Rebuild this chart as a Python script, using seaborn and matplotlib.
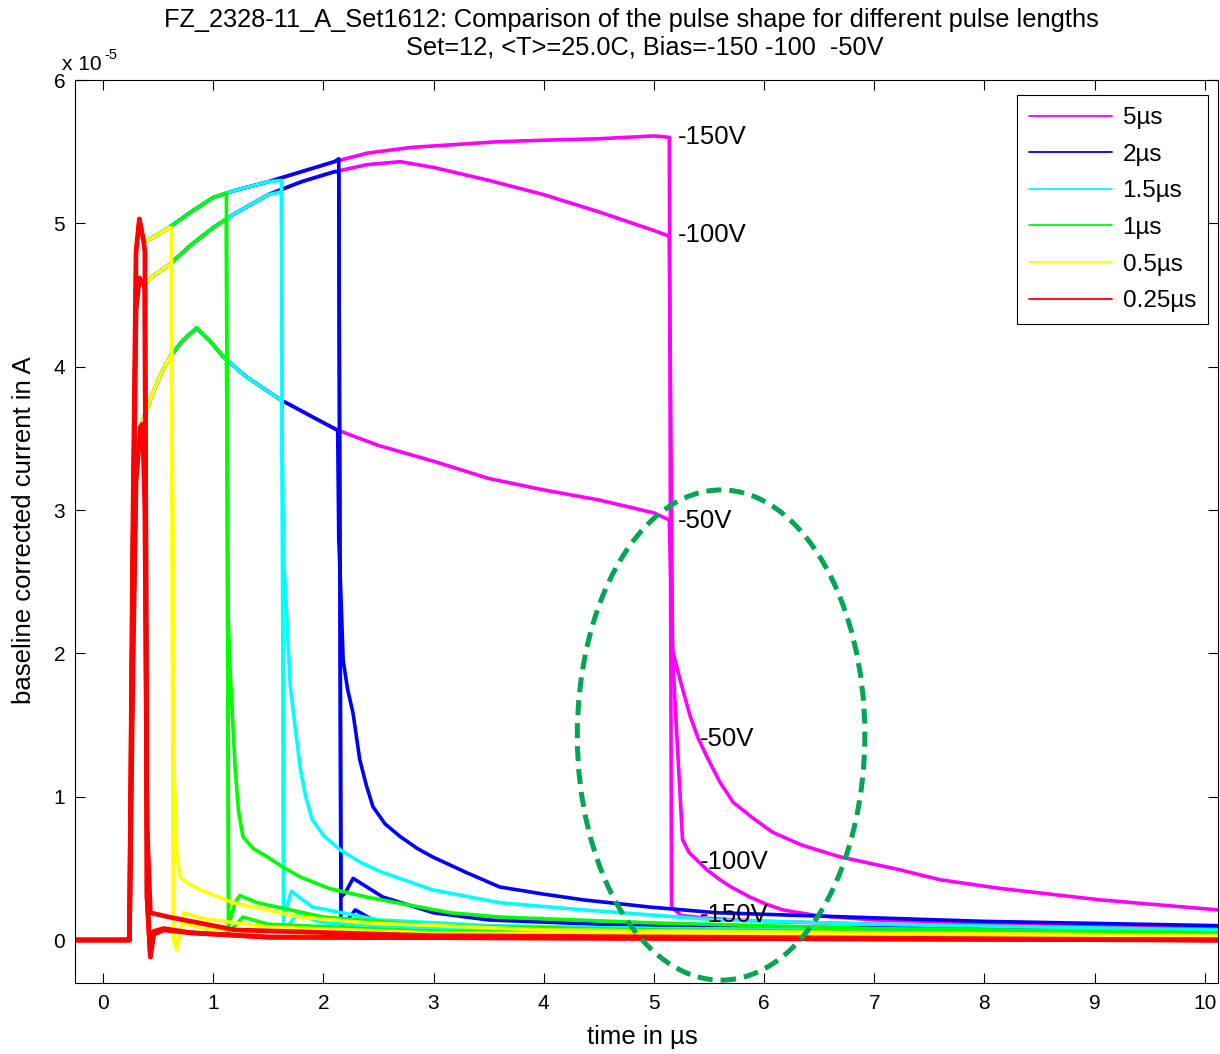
import matplotlib
matplotlib.use("Agg")
import matplotlib.pyplot as plt
from matplotlib.patches import Ellipse
import seaborn as sns

# ---------------- data (time in µs, current in units of 1e-5 A) ----------------
pulse_labels = ["5\u00b5s", "2\u00b5s", "1.5\u00b5s", "1\u00b5s", "0.5\u00b5s", "0.25\u00b5s"]
pulse_colors = ["#FF00FF", "#0000FF", "#00FFFF", "#00FF00", "#FFFF00", "#FF0000"]
bias_labels = ["-150V", "-100V", "-50V"]

# common pulse body (rise + plateau) for each bias
body150_t = [-0.25, 0.24, 0.27, 0.30, 0.33, 0.37, 0.45, 0.60, 0.80, 1.00, 1.20, 1.50, 1.80, 2.10,
             2.40, 2.80, 3.20, 3.60, 4.00, 4.50, 5.00]
body150_y = [0.0, 0.0, 2.8, 4.8, 5.03, 4.87, 4.90, 4.97, 5.08, 5.18, 5.23, 5.29, 5.36, 5.43,
             5.49, 5.53, 5.55, 5.57, 5.58, 5.59, 5.61]
body100_t = [-0.25, 0.24, 0.27, 0.30, 0.33, 0.37, 0.45, 0.60, 0.80, 1.00, 1.20, 1.50, 1.80, 2.10,
             2.40, 2.70, 3.00, 3.50, 4.00, 4.50, 5.00]
body100_y = [0.0, 0.0, 2.5, 4.4, 4.62, 4.57, 4.63, 4.71, 4.85, 4.97, 5.07, 5.20, 5.29, 5.36,
             5.41, 5.43, 5.39, 5.30, 5.20, 5.08, 4.95]
body50_t = [-0.25, 0.24, 0.27, 0.30, 0.34, 0.43, 0.52, 0.61, 0.72, 0.85, 0.97, 1.09, 1.30, 1.61,
            1.90, 2.12, 2.50, 3.00, 3.50, 4.00, 4.50, 5.00]
body50_y = [0.0, 0.0, 1.8, 3.2, 3.58, 3.77, 3.94, 4.07, 4.18, 4.27, 4.18, 4.07, 3.93, 3.77,
            3.65, 3.56, 3.45, 3.34, 3.22, 3.14, 3.07, 2.98]

# tails after the end of each pulse
t5_150 = [5.14, 5.16, 5.25, 5.5, 6.0, 7.0, 8.0, 9.0, 10.12]
y5_150 = [5.60, 0.23, 0.17, 0.15, 0.13, 0.11, 0.10, 0.09, 0.08]
t5_100 = [5.14, 5.16, 5.17, 5.26, 5.32, 5.40, 5.48, 5.60, 5.70, 5.87, 6.02, 6.17, 6.48, 7.0, 8.0, 9.0, 10.12]
y5_100 = [4.91, 3.0, 1.97, 0.70, 0.61, 0.55, 0.49, 0.42, 0.37, 0.30, 0.25, 0.21, 0.17, 0.14, 0.12, 0.10, 0.09]
t5_50 = [5.14, 5.16, 5.17, 5.25, 5.33, 5.40, 5.48, 5.60, 5.72, 5.90, 6.08, 6.35, 6.69, 7.23, 7.6, 8.14, 9.05, 10.12]
y5_50 = [2.93, 2.3, 2.02, 1.78, 1.56, 1.41, 1.28, 1.10, 0.96, 0.85, 0.75, 0.66, 0.58, 0.49, 0.42, 0.36, 0.28, 0.21]

t2_150 = [2.14, 2.16, 2.20, 2.29, 2.45, 2.8, 4.0, 6.0, 10.12]
y2_150 = [5.45, 0.08, 0.12, 0.21, 0.14, 0.11, 0.08, 0.06, 0.05]
t2_100 = [2.14, 2.16, 2.20, 2.27, 2.54, 3.0, 3.5, 4.5, 6.0, 10.12]
y2_100 = [5.36, 0.30, 0.33, 0.43, 0.30, 0.19, 0.14, 0.11, 0.09, 0.07]
t2_50 = [2.13, 2.14, 2.155, 2.18, 2.22, 2.27, 2.33, 2.39, 2.45, 2.56, 2.70, 2.85, 2.99, 3.30, 3.60,
         4.00, 4.36, 4.96, 5.57, 6.78, 8.0, 10.12]
y2_50 = [3.56, 2.8, 2.5, 1.95, 1.75, 1.58, 1.26, 1.08, 0.93, 0.81, 0.72, 0.64, 0.58, 0.47, 0.37,
         0.32, 0.28, 0.23, 0.19, 0.16, 0.13, 0.10]

t15_150 = [1.62, 1.64, 1.68, 1.76, 2.0, 3.0, 5.0, 10.12]
y15_150 = [5.30, 0.05, 0.10, 0.18, 0.12, 0.08, 0.06, 0.04]
t15_100 = [1.62, 1.64, 1.68, 1.71, 1.90, 2.5, 3.5, 5.0, 10.12]
y15_100 = [5.22, 0.15, 0.26, 0.34, 0.23, 0.14, 0.10, 0.08, 0.06]
t15_50 = [1.62, 1.63, 1.64, 1.655, 1.70, 1.75, 1.79, 1.84, 1.90, 2.00, 2.15, 2.34, 2.54, 2.99, 3.60,
          4.36, 5.57, 7.0, 10.12]
y15_50 = [3.77, 3.2, 2.65, 2.46, 1.77, 1.45, 1.20, 1.00, 0.84, 0.73, 0.63, 0.54, 0.47, 0.35, 0.26,
          0.21, 0.14, 0.11, 0.07]

t1_150 = [1.12, 1.14, 1.20, 1.27, 1.5, 3.0, 10.12]
y1_150 = [5.21, 0.05, 0.10, 0.16, 0.11, 0.06, 0.03]
t1_100 = [1.12, 1.14, 1.20, 1.24, 1.40, 2.0, 3.0, 5.0, 10.12]
y1_100 = [5.03, 0.10, 0.26, 0.31, 0.26, 0.16, 0.10, 0.07, 0.05]
t1_50 = [1.12, 1.13, 1.135, 1.155, 1.20, 1.23, 1.27, 1.36, 1.49, 1.63, 1.79, 2.05, 2.39, 3.15, 3.60,
         4.96, 7.0, 10.12]
y1_50 = [4.08, 3.2, 2.28, 1.86, 1.19, 0.90, 0.72, 0.64, 0.58, 0.51, 0.44, 0.36, 0.30, 0.19, 0.16,
         0.12, 0.08, 0.05]

t05_150 = [0.62, 0.64, 0.67, 0.72, 0.9, 2.0, 10.12]
y05_150 = [4.97, 0.0, -0.05, 0.12, 0.08, 0.04, 0.02]
t05_100 = [0.62, 0.64, 0.67, 0.73, 0.9, 1.5, 3.0, 10.12]
y05_100 = [4.72, 0.05, -0.07, 0.19, 0.15, 0.09, 0.05, 0.02]
t05_50 = [0.62, 0.635, 0.645, 0.67, 0.70, 0.76, 0.88, 1.18, 1.79, 2.39, 4.0, 10.12]
y05_50 = [4.06, 3.0, 1.2, 0.61, 0.44, 0.40, 0.35, 0.26, 0.16, 0.12, 0.07, 0.03]

t025_150 = [0.38, 0.40, 0.43, 0.46, 0.55, 0.8, 1.5, 10.12]
y025_150 = [4.8, 0.3, -0.12, 0.04, 0.07, 0.05, 0.02, 0.0]
t025_100 = [0.38, 0.40, 0.43, 0.46, 0.55, 0.8, 1.5, 10.12]
y025_100 = [4.55, 0.3, -0.10, 0.06, 0.08, 0.05, 0.02, 0.0]
t025_50 = [0.36, 0.38, 0.40, 0.43, 0.6, 1.2, 3.0, 10.12]
y025_50 = [3.6, 3.0, 0.8, 0.19, 0.16, 0.07, 0.03, 0.0]

bodies = [(body150_t, body150_y), (body100_t, body100_y), (body50_t, body50_y)]
tails = [
    [(t5_150, y5_150), (t5_100, y5_100), (t5_50, y5_50)],
    [(t2_150, y2_150), (t2_100, y2_100), (t2_50, y2_50)],
    [(t15_150, y15_150), (t15_100, y15_100), (t15_50, y15_50)],
    [(t1_150, y1_150), (t1_100, y1_100), (t1_50, y1_50)],
    [(t05_150, y05_150), (t05_100, y05_100), (t05_50, y05_50)],
    [(t025_150, y025_150), (t025_100, y025_100), (t025_50, y025_50)],
]

# ---------------- style ----------------
sns.set_style("white")
plt.rcParams["font.family"] = ["Liberation Sans", "DejaVu Sans"]
plt.rcParams["text.color"] = "black"
plt.rcParams["axes.labelcolor"] = "black"
plt.rcParams["xtick.color"] = "black"
plt.rcParams["ytick.color"] = "black"

fig = plt.figure(figsize=(12.2, 10.54), dpi=100)
ax = fig.add_axes([75 / 1220, 1 - 983 / 1054, 1143 / 1220, 903 / 1054])

for pi, (lab, col) in enumerate(zip(pulse_labels, pulse_colors)):
    lw = 3.4 if col == "#FF0000" else 2.6
    for bi in range(3):
        bt, by = bodies[bi]
        tt, ty = tails[pi][bi]
        xs = [t for t in bt if t < tt[0]] + list(tt)
        ys = [y for t, y in zip(bt, by) if t < tt[0]] + list(ty)
        sns.lineplot(x=xs, y=ys, ax=ax, color=col, lw=lw, sort=False, estimator=None,
                     label=lab if bi == 0 else None, legend=False)

ax.set_xlim(-0.254, 10.12)
ax.set_ylim(-0.3, 6.0)
ax.set_xticks(range(0, 11))
ax.set_yticks(range(0, 7))
ax.tick_params(direction="in", length=7, width=0.8, top=True, right=True,
               bottom=True, left=True, labelsize=15, pad=8, colors="black")
ax.tick_params(axis="y", pad=7)
for s in ax.spines.values():
    s.set_color("black")
    s.set_linewidth(0.8)

ax.set_xlabel("time in \u00b5s", fontsize=18.5, color="black")
ax.set_ylabel("baseline corrected current in A", fontsize=18.5, color="black")
ax.xaxis.set_label_coords(0.496, -0.046)
ax.yaxis.set_label_coords(-0.034, 0.502)

fig.text(631 / 1220, 1 - 20 / 1054,
         "FZ_2328-11_A_Set1612: Comparison of the pulse shape for different pulse lengths",
         ha="center", va="center", fontsize=18.3)
fig.text(645 / 1220, 1 - 48 / 1054, "Set=12, <T>=25.0C, Bias=-150 -100  -50V",
         ha="center", va="center", fontsize=18.3)
fig.text(62 / 1220, 1 - 70 / 1054, "x 10", ha="left", va="baseline", fontsize=15)
fig.text(104 / 1220, 1 - 59 / 1054, "-5", ha="left", va="baseline", fontsize=10.5)

# bias annotations
ax.text(5.218, 5.60, "-150V", fontsize=18.5, ha="left", va="center")
ax.text(5.218, 4.92, "-100V", fontsize=18.5, ha="left", va="center")
ax.text(5.218, 2.92, "-50V", fontsize=18.5, ha="left", va="center")
ax.text(5.417, 1.40, "-50V", fontsize=18.5, ha="left", va="center")
ax.text(5.417, 0.545, "-100V", fontsize=18.5, ha="left", va="center")
ax.text(5.417, 0.175, "-150V", fontsize=18.5, ha="left", va="center")

ell = Ellipse((5.61, 1.43), width=2.61, height=3.42, fill=False, edgecolor="#00A651",
              lw=3.6, linestyle=(0, (3, 1.6)), zorder=10)
ax.add_patch(ell)

leg = ax.legend(loc="upper right", bbox_to_anchor=(0.9913, 0.9834), borderaxespad=0,
                fontsize=17.5, handlelength=3.4, handletextpad=0.45, borderpad=0.5,
                labelspacing=0.6, fancybox=False, framealpha=1, edgecolor="black")
leg.get_frame().set_linewidth(0.8)
for ln in leg.get_lines():
    ln.set_linewidth(1.3)

fig.savefig("out.png", dpi=100)
